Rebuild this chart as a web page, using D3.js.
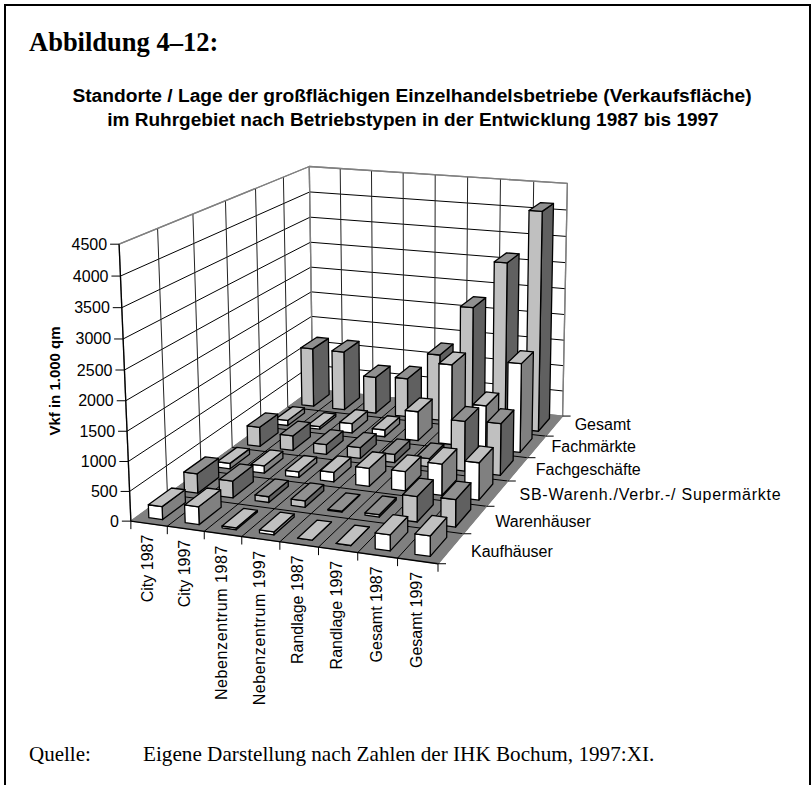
<!DOCTYPE html>
<html><head><meta charset="utf-8">
<script src="https://cdn.jsdelivr.net/npm/d3@7"></script>
<style>html,body{margin:0;padding:0;background:#fff}svg{display:block}</style></head>
<body><svg id="c" width="811" height="785"></svg>
<script>
const categories = ["City 1987","City 1997","Nebenzentrum 1987","Nebenzentrum 1997","Randlage 1987","Randlage 1997","Gesamt 1987","Gesamt 1997"];
const seriesNames = ["Kaufhäuser","Warenhäuser","SB-Warenh./Verbr.-/ Supermärkte","Fachgeschäfte","Fachmärkte","Gesamt"];
const kaufhaeuser  = [220,300,30,50,0,0,260,330];
const warenhaeuser = [340,290,100,110,15,40,430,460];
const sbMaerkte    = [100,130,100,170,320,340,550,650];
const fachgeschaefte=[360,270,180,200,150,150,900,930];
const fachmaerkte  = [100,50,180,130,550,1500,800,1650];
const gesamt       = [1150,1150,710,750,1280,2250,3150,4150];
const seriesValues = [kaufhaeuser,warenhaeuser,sbMaerkte,fachgeschaefte,fachmaerkte,gesamt];
const valueTicks = d3.range(0,4501,500);

const frame = [[0,0,0,130,522],[0,0,1,120,244],[0,1,0,314,388],[0,1,1,308,167],[1,1,0,562,417],[1,1,1,568,183],[1,0,0,438,563]];
function fit(pts){
  const A=[],b=[];
  pts.forEach(([u,v,h,x,y])=>{
    A.push([u,v,h,1,0,0,0,0,-x*u,-x*v,-x*h]);b.push(x);
    A.push([0,0,0,0,u,v,h,1,-y*u,-y*v,-y*h]);b.push(y);
  });
  const n=11,M=d3.range(n).map(i=>d3.range(n+1).map(j=>{
    let s=0;A.forEach((r,k)=>{s+=r[i]*(j<n?r[j]:b[k]);});return s;}));
  for(let i=0;i<n;i++){
    let p=i;for(let k=i+1;k<n;k++)if(Math.abs(M[k][i])>Math.abs(M[p][i]))p=k;
    [M[i],M[p]]=[M[p],M[i]];
    for(let k=0;k<n;k++)if(k!==i){const f=M[k][i]/M[i][i];for(let j=i;j<=n;j++)M[k][j]-=f*M[i][j];}
  }
  return M.map((r,i)=>r[n]/r[i]);
}
const P=fit(frame);
const proj=(u,v,h)=>{const w=P[8]*u+P[9]*v+P[10]*h+1;return [(P[0]*u+P[1]*v+P[2]*h+P[3])/w,(P[4]*u+P[5]*v+P[6]*h+P[7])/w];};

const U=d3.scaleBand().domain(d3.range(categories.length)).range([0,1]).paddingInner(0.62).paddingOuter(0.31);
const V=d3.scaleBand().domain(d3.range(seriesNames.length)).range([0,1]).paddingInner(0.36).paddingOuter(0.18);
const cellU=d3.scaleLinear().domain([0,categories.length]).range([0,1]);
const cellV=d3.scaleLinear().domain([0,seriesNames.length]).range([0,1]);
const H=d3.scaleLinear().domain([0,4500]).range([0,1]);

const svg=d3.select("#c");
const line=d3.line();
const poly=(g,pts,fill,stroke,w)=>g.append("path").attr("d",line(pts)+"Z").attr("fill",fill).attr("stroke",stroke||"#000").attr("stroke-width",w||1).attr("stroke-linejoin","round");
const seg=(g,a,b,stroke,w)=>g.append("path").attr("d",line([a,b])).attr("fill","none").attr("stroke",stroke).attr("stroke-width",w||1);

svg.append("path").attr("d","M5,785V5H810V785").attr("fill","none").attr("stroke","#000").attr("stroke-width",2);

const chart=svg.append("g");
poly(chart,[proj(0,0,0),proj(0,1,0),proj(0,1,1),proj(0,0,1)],"#fff","#808080",1.3);
poly(chart,[proj(0,1,0),proj(1,1,0),proj(1,1,1),proj(0,1,1)],"#fff","#808080",1.3);
valueTicks.forEach(t=>{
  const h=H(t);
  if(t>0&&t<4500){seg(chart,proj(0,0,h),proj(0,1,h),"#000");seg(chart,proj(0,1,h),proj(1,1,h),"#000");}
});
d3.range(1,categories.length).forEach(i=>seg(chart,proj(cellU(i),1,0),proj(cellU(i),1,1),"#222"));
d3.range(1,seriesNames.length).forEach(i=>seg(chart,proj(0,cellV(i),0),proj(0,cellV(i),1),"#222"));
seg(chart,proj(0,1,0),proj(0,1,1),"#808080",1.3);
seg(chart,proj(1,1,0),proj(1,1,1),"#808080",1.3);
seg(chart,proj(0,1,1),proj(1,1,1),"#808080",1.3);
seg(chart,proj(0,0,1),proj(0,1,1),"#808080",1.3);
poly(chart,[proj(0,0,0),proj(1,0,0),proj(1,1,0),proj(0,1,0)],"#808080","#808080");
d3.range(1,categories.length).forEach(i=>seg(chart,proj(cellU(i),0,0),proj(cellU(i),1,0),"#000"));
d3.range(1,seriesNames.length).forEach(i=>seg(chart,proj(0,cellV(i),0),proj(1,cellV(i),0),"#000"));

const looks=[["#fff","#808080","#c0c0c0"],["#c0c0c0","#606060","#909090"]];
d3.range(seriesNames.length-1,-1,-1).forEach(s=>{
  const [front,side,top]=looks[s%2];
  categories.forEach((c,i)=>{
    const val=seriesValues[s][i],u0=U(i),u1=u0+U.bandwidth(),v0=V(s),v1=v0+V.bandwidth(),h=H(val);
    const g=chart.append("g").attr("class","bar");
    poly(g,[proj(u1,v0,0),proj(u1,v1,0),proj(u1,v1,h),proj(u1,v0,h)],side,"#000",1.3);
    poly(g,[proj(u0,v0,0),proj(u1,v0,0),proj(u1,v0,h),proj(u0,v0,h)],front,"#000",1.3);
    poly(g,[proj(u0,v0,h),proj(u1,v0,h),proj(u1,v1,h),proj(u0,v1,h)],top,"#000",1.3);
  });
});

const font="Arial, 'Liberation Sans', sans-serif";
seg(chart,proj(0,0,0),proj(0,0,1),"#000",1.3);
seg(chart,proj(0,0,0),proj(1,0,0),"#000",1.3);
seg(chart,proj(1,0,0),proj(1,1,0),"#808080",1.3);
valueTicks.forEach(t=>{
  const p=proj(0,0,H(t));
  seg(chart,[p[0]-9,p[1]],p,"#000");
  chart.append("text").attr("x",p[0]-12).attr("y",p[1]+5.5).attr("text-anchor","end").attr("font-family",font).attr("font-size",16).text(t);
});
d3.range(0,categories.length+1).forEach(i=>{
  const p=proj(cellU(i),0,0);seg(chart,p,[p[0],p[1]+8],"#000");
});
categories.forEach((c,i)=>{
  const p=proj(cellU(i+0.5),0,0);
  const t=chart.append("text").attr("transform",`translate(${p[0]+4},${p[1]+11}) rotate(-90)`).attr("text-anchor","end").attr("font-family",font).attr("font-size",16);
  t.text(c);
  if(c.startsWith("Neben")) t.attr("letter-spacing",0.6);
});
d3.range(0,seriesNames.length+1).forEach(i=>{
  const p=proj(1,cellV(i),0);seg(chart,p,[p[0]+8,p[1]],"#000");
});
const labelX=d3.scaleOrdinal().domain(seriesNames).range([22,21,22,17,13,18]);
seriesNames.forEach((n,i)=>{
  const p=proj(1,cellV(i),0);
  const t=chart.append("text").attr("x",p[0]+11+labelX(n)).attr("y",p[1]-6+(i<2?-1:0)).attr("font-family",font).attr("font-size",16).text(n);
  if(n.startsWith("SB")) t.attr("letter-spacing",0.75);
});
chart.append("text").attr("transform","translate(60,381) rotate(-90)").attr("text-anchor","middle").attr("font-family",font).attr("font-weight","bold").attr("font-size",15).text("Vkf in 1.000 qm");

const serif="'Liberation Serif','Times New Roman',serif";
svg.append("text").attr("x",29).attr("y",51).attr("font-family",serif).attr("font-weight","bold").attr("font-size",26.5).text("Abbildung 4–12:");
svg.append("text").attr("x",412).attr("y",102).attr("text-anchor","middle").attr("font-family",font).attr("font-weight","bold").attr("font-size",19.2).text("Standorte / Lage der großflächigen Einzelhandelsbetriebe (Verkaufsfläche)");
svg.append("text").attr("x",413).attr("y",126).attr("text-anchor","middle").attr("font-family",font).attr("font-weight","bold").attr("font-size",19).text("im Ruhrgebiet nach Betriebstypen in der Entwicklung 1987 bis 1997");
svg.append("text").attr("x",29).attr("y",761).attr("font-family",serif).attr("font-size",21).text("Quelle:");
svg.append("text").attr("x",143).attr("y",761).attr("font-family",serif).attr("font-size",21.2).text("Eigene Darstellung nach Zahlen der IHK Bochum, 1997:XI.");
</script></body></html>
